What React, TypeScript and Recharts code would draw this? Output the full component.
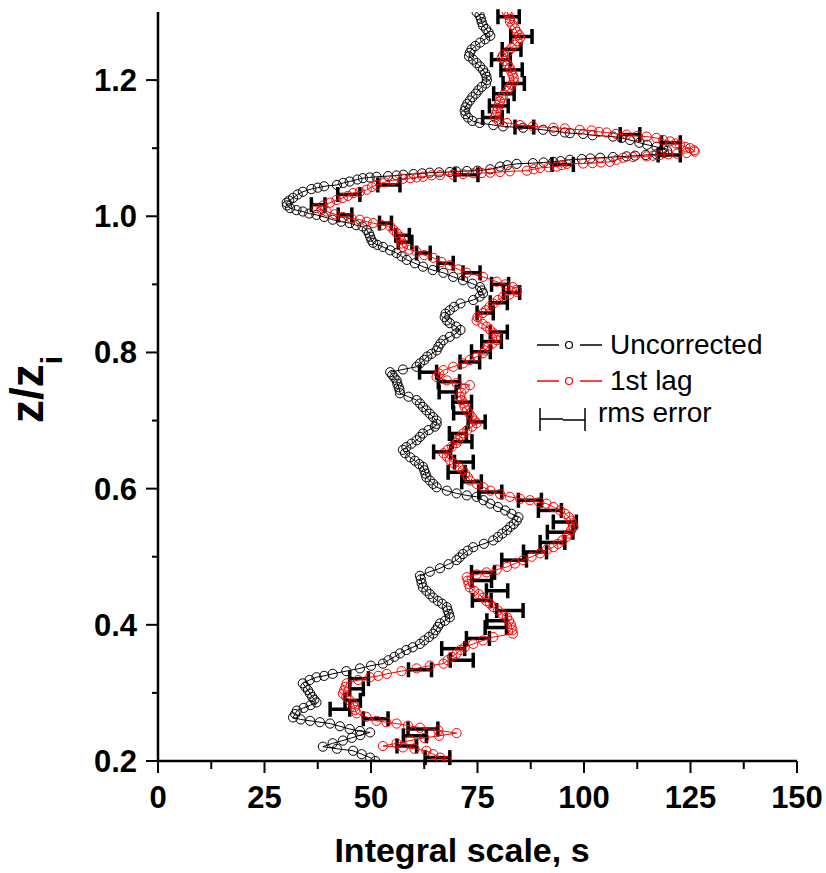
import { Scatter, ScatterChart, XAxis, YAxis, ErrorBar } from "recharts";

// [z/zi, integral scale (s)]
const uncorrected: [number, number][] = [
  [1.3, 74.8], [1.295, 75.5], [1.29, 75.8], [1.285, 76.0], [1.28, 76.3], [1.275, 77.0], [1.27, 77.6],
  [1.265, 78.0], [1.26, 76.8], [1.255, 75.6], [1.25, 74.5], [1.245, 73.6], [1.24, 73.2], [1.235, 73.0],
  [1.23, 74.0], [1.225, 74.8], [1.22, 75.6], [1.215, 76.3], [1.21, 76.8], [1.205, 77.1], [1.2, 77.2],
  [1.195, 77.0], [1.19, 76.0], [1.185, 75.2], [1.18, 74.6], [1.175, 73.8], [1.17, 73.2], [1.165, 72.6],
  [1.16, 72.2], [1.155, 72.0], [1.15, 72.2], [1.145, 72.8], [1.14, 73.8], [1.137, 75.5], [1.134, 78.7],
  [1.132, 81.0], [1.13, 85.7], [1.127, 90.4], [1.125, 93.0], [1.123, 95.5], [1.122, 96.7], [1.121, 99.8],
  [1.119, 102.0], [1.117, 106.8], [1.115, 108.8], [1.112, 110.8], [1.108, 113.0], [1.105, 114.8],
  [1.102, 117.0], [1.099, 118.6], [1.096, 119.5], [1.093, 118.8], [1.091, 117.0], [1.09, 114.5],
  [1.089, 112.0], [1.088, 110.0], [1.087, 106.8], [1.086, 103.8], [1.085, 101.5], [1.084, 99.5],
  [1.083, 96.7], [1.081, 94.5], [1.08, 92.8], [1.079, 90.5], [1.078, 88.0], [1.077, 84.2], [1.075, 82.0],
  [1.073, 80.3], [1.069, 78.0], [1.067, 75.0], [1.0665, 72.5], [1.066, 70.0], [1.065, 68.5],
  [1.0645, 66.0], [1.064, 63.8], [1.063, 62.0], [1.062, 60.0], [1.061, 57.6], [1.06, 56.0], [1.059, 54.0],
  [1.058, 51.3], [1.057, 49.7], [1.056, 48.1], [1.054, 46.8], [1.051, 45.0], [1.049, 43.5], [1.046, 42.0],
  [1.044, 39.0], [1.042, 37.5], [1.04, 36.0], [1.036, 34.0], [1.032, 32.8], [1.027, 31.7], [1.023, 30.8],
  [1.02, 30.2], [1.016, 30.3], [1.012, 31.0], [1.009, 32.5], [1.007, 34.0], [1.004, 35.5], [1.002, 37.2],
  [0.999, 39.0], [0.995, 41.0], [0.992, 43.0], [0.99, 45.0], [0.987, 46.5], [0.985, 48.0], [0.98, 49.0],
  [0.975, 49.5], [0.97, 49.8], [0.965, 50.1], [0.961, 50.5], [0.958, 51.5], [0.955, 52.8], [0.95, 54.5],
  [0.946, 56.0], [0.941, 57.2], [0.936, 58.4], [0.931, 60.3], [0.926, 62.2], [0.921, 64.5], [0.917, 67.0],
  [0.911, 69.3], [0.906, 71.6], [0.901, 73.8], [0.896, 75.6], [0.891, 76.0], [0.887, 76.3], [0.882, 75.5],
  [0.877, 74.0], [0.872, 71.0], [0.867, 69.5], [0.862, 68.5], [0.857, 67.5], [0.852, 67.3], [0.847, 67.8],
  [0.843, 68.5], [0.838, 70.0], [0.833, 71.0], [0.828, 70.0], [0.823, 68.5], [0.818, 67.0], [0.813, 66.3],
  [0.808, 65.8], [0.803, 65.4], [0.798, 64.2], [0.794, 63.2], [0.789, 62.5], [0.784, 61.5], [0.779, 60.7],
  [0.775, 57.5], [0.771, 54.5], [0.767, 55.0], [0.763, 55.5], [0.759, 56.0], [0.754, 56.2], [0.749, 56.5],
  [0.745, 56.7], [0.74, 56.8], [0.735, 58.8], [0.73, 60.7], [0.725, 61.5], [0.72, 62.2], [0.715, 63.0],
  [0.71, 63.8], [0.705, 64.6], [0.7, 65.4], [0.695, 65.4], [0.691, 65.0], [0.686, 63.5], [0.681, 62.2],
  [0.676, 61.5], [0.671, 60.7], [0.666, 59.5], [0.661, 58.3], [0.657, 57.5], [0.652, 58.0], [0.646, 59.2],
  [0.641, 60.3], [0.636, 61.3], [0.632, 62.2], [0.627, 62.5], [0.622, 62.8], [0.617, 63.0], [0.612, 63.8],
  [0.607, 64.6], [0.602, 65.4], [0.597, 67.8], [0.593, 70.1], [0.59, 72.5], [0.588, 74.8], [0.583, 76.4],
  [0.578, 78.0], [0.573, 79.8], [0.568, 81.5], [0.563, 83.0], [0.558, 84.6], [0.553, 84.2], [0.548, 83.5],
  [0.544, 82.7], [0.539, 81.9], [0.534, 80.8], [0.529, 79.8], [0.524, 78.7], [0.519, 76.5], [0.514, 74.0],
  [0.509, 72.7], [0.504, 71.6], [0.499, 70.8], [0.495, 70.1], [0.489, 68.2], [0.483, 66.2], [0.478, 63.8],
  [0.472, 61.5], [0.467, 61.7], [0.461, 61.9], [0.455, 62.2], [0.45, 63.0], [0.445, 63.8], [0.44, 64.6],
  [0.435, 65.7], [0.431, 66.7], [0.426, 67.8], [0.421, 68.0], [0.416, 68.3], [0.411, 68.5], [0.406, 67.4],
  [0.402, 66.2], [0.397, 65.7], [0.392, 65.2], [0.387, 64.6], [0.382, 63.6], [0.377, 62.5], [0.372, 61.5],
  [0.367, 59.8], [0.363, 58.3], [0.358, 56.8], [0.353, 55.5], [0.348, 54.1], [0.343, 52.8], [0.34, 50.0],
  [0.336, 47.4], [0.332, 44.2], [0.328, 41.0], [0.325, 39.0], [0.323, 37.2], [0.319, 35.6], [0.314, 34.0],
  [0.309, 34.6], [0.304, 35.2], [0.299, 35.7], [0.294, 36.2], [0.29, 36.7], [0.286, 37.2], [0.282, 35.8],
  [0.278, 34.2], [0.274, 32.6], [0.269, 32.2], [0.264, 31.7], [0.261, 33.5], [0.259, 35.7], [0.257, 38.0],
  [0.255, 40.4], [0.251, 42.7], [0.247, 45.0], [0.244, 47.4], [0.242, 49.8], [0.238, 47.5], [0.234, 45.5],
  [0.23, 43.4], [0.226, 41.0], [0.221, 38.7], [0.218, 42.0], [0.215, 45.8], [0.21, 47.8], [0.205, 49.8],
  [0.2, 51.0],
];

const firstLag: [number, number][] = [
  [1.3, 81.9], [1.295, 82.3], [1.29, 82.6], [1.286, 82.6], [1.281, 83.2], [1.276, 83.8], [1.271, 84.2],
  [1.266, 84.8], [1.262, 85.0], [1.257, 84.4], [1.252, 83.7], [1.247, 83.0], [1.242, 82.2], [1.237, 81.0],
  [1.233, 80.7], [1.228, 81.4], [1.223, 82.1], [1.218, 82.6], [1.213, 82.9], [1.208, 83.2], [1.203, 83.5],
  [1.198, 83.5], [1.193, 83.0], [1.189, 82.6], [1.184, 82.0], [1.178, 81.0], [1.174, 80.6], [1.169, 80.3],
  [1.164, 80.0], [1.159, 79.8], [1.154, 79.5], [1.149, 79.3], [1.145, 79.1], [1.14, 80.0], [1.137, 81.9],
  [1.134, 85.0], [1.132, 88.0], [1.13, 92.8], [1.129, 95.5], [1.127, 99.0], [1.126, 101.8], [1.124, 103.5],
  [1.123, 105.3], [1.121, 107.5], [1.12, 110.0], [1.118, 112.5], [1.117, 114.7], [1.115, 117.0],
  [1.112, 118.6], [1.11, 120.2], [1.107, 121.5], [1.105, 122.5], [1.102, 123.8], [1.1, 124.9],
  [1.097, 125.8], [1.095, 126.0], [1.093, 124.1], [1.092, 121.8], [1.091, 119.8], [1.09, 117.8],
  [1.089, 116.2], [1.088, 114.7], [1.087, 111.5], [1.086, 109.2], [1.083, 107.6], [1.08, 106.1],
  [1.079, 104.0], [1.078, 102.0], [1.0775, 99.8], [1.077, 96.0], [1.075, 94.8], [1.073, 93.7],
  [1.072, 91.7], [1.071, 89.7], [1.069, 88.2], [1.067, 86.6], [1.066, 82.6], [1.065, 80.3], [1.064, 78.0],
  [1.0635, 76.0], [1.063, 74.0], [1.062, 71.6], [1.061, 69.2], [1.0605, 66.2], [1.06, 64.2], [1.058, 62.2],
  [1.057, 60.7], [1.056, 59.2], [1.055, 57.5], [1.053, 55.2], [1.05, 53.2], [1.046, 51.3], [1.043, 50.2],
  [1.039, 49.0], [1.036, 47.4], [1.034, 45.8], [1.03, 44.6], [1.027, 43.4], [1.024, 41.9], [1.02, 40.4],
  [1.016, 38.8], [1.012, 37.2], [1.009, 38.4], [1.007, 39.6], [1.003, 41.5], [0.999, 43.4], [0.997, 45.4],
  [0.995, 47.4], [0.992, 49.0], [0.99, 50.5], [0.987, 52.5], [0.985, 54.5], [0.98, 55.3], [0.975, 56.1],
  [0.97, 56.8], [0.965, 57.0], [0.96, 57.2], [0.955, 57.5], [0.951, 59.0], [0.948, 60.7], [0.943, 62.5],
  [0.939, 64.6], [0.933, 66.5], [0.928, 68.5], [0.922, 70.5], [0.917, 72.5], [0.911, 76.3], [0.904, 79.5],
  [0.9, 81.5], [0.896, 83.3], [0.892, 84.2], [0.889, 84.2], [0.885, 82.5], [0.882, 81.0], [0.877, 79.8],
  [0.872, 78.7], [0.867, 77.8], [0.862, 77.0], [0.858, 76.3], [0.852, 75.0], [0.847, 74.8], [0.842, 76.2],
  [0.838, 77.1], [0.833, 78.0], [0.828, 78.8], [0.823, 79.5], [0.818, 79.5], [0.813, 78.5], [0.808, 77.5],
  [0.803, 76.8], [0.799, 76.3], [0.794, 74.8], [0.789, 73.2], [0.784, 71.6], [0.779, 69.3], [0.774, 67.0],
  [0.769, 66.0], [0.764, 65.4], [0.759, 67.8], [0.755, 70.1], [0.752, 73.2], [0.747, 72.0], [0.741, 71.2],
  [0.735, 70.9], [0.73, 71.3], [0.725, 71.7], [0.72, 72.0], [0.715, 72.5], [0.71, 73.1], [0.705, 73.7],
  [0.7, 74.3], [0.696, 74.8], [0.691, 73.7], [0.686, 72.6], [0.681, 71.6], [0.676, 71.0], [0.671, 70.4],
  [0.667, 70.1], [0.662, 69.0], [0.657, 68.0], [0.652, 67.0], [0.647, 67.8], [0.642, 68.5], [0.637, 69.5],
  [0.632, 70.6], [0.627, 71.6], [0.622, 72.1], [0.617, 72.7], [0.612, 73.2], [0.607, 74.8], [0.602, 76.4],
  [0.597, 78.0], [0.592, 80.3], [0.588, 82.6], [0.585, 85.0], [0.583, 87.3], [0.58, 89.5], [0.578, 91.2],
  [0.573, 92.8], [0.568, 94.4], [0.563, 95.6], [0.558, 96.5], [0.553, 97.0], [0.549, 97.3], [0.544, 97.5],
  [0.539, 97.0], [0.534, 96.5], [0.529, 95.9], [0.524, 94.9], [0.519, 93.9], [0.514, 92.8], [0.51, 91.2],
  [0.505, 89.7], [0.5, 87.7], [0.495, 85.7], [0.49, 83.8], [0.485, 81.9], [0.481, 79.5], [0.477, 77.1],
  [0.474, 74.8], [0.47, 72.5], [0.465, 72.7], [0.46, 72.9], [0.455, 73.2], [0.45, 74.2], [0.445, 75.3],
  [0.44, 76.3], [0.435, 77.1], [0.431, 77.9], [0.426, 78.7], [0.421, 79.8], [0.416, 80.8], [0.411, 81.9],
  [0.406, 82.4], [0.401, 82.8], [0.396, 83.0], [0.392, 83.2], [0.387, 83.3], [0.382, 78.7], [0.377, 76.3],
  [0.372, 74.0], [0.367, 72.0], [0.363, 71.0], [0.358, 70.1], [0.353, 69.0], [0.348, 68.0], [0.343, 67.0],
  [0.34, 63.8], [0.336, 60.7], [0.332, 57.2], [0.328, 53.7], [0.325, 51.7], [0.323, 49.8], [0.319, 47.0],
  [0.314, 44.3], [0.309, 44.0], [0.304, 43.7], [0.299, 43.4], [0.294, 44.2], [0.289, 45.0], [0.284, 45.8],
  [0.279, 46.1], [0.275, 46.3], [0.27, 46.6], [0.265, 48.9], [0.259, 51.3], [0.257, 53.6], [0.255, 56.0],
  [0.252, 58.7], [0.249, 61.5], [0.245, 65.8], [0.241, 70.1], [0.237, 66.0], [0.234, 62.5], [0.23, 59.2],
  [0.226, 56.0], [0.222, 52.8], [0.22, 57.5], [0.218, 60.2], [0.215, 63.0], [0.21, 64.6], [0.205, 66.2],
  [0.2, 67.8],
];

// [z/zi, centre, rms error]
const rmsError: [number, number, number][] = [
  [1.293, 82.3, 2.5], [1.264, 85.3, 2.5], [1.245, 83.0, 2.2], [1.23, 80.5, 2.2], [1.215, 83.0, 2.5],
  [1.195, 83.5, 2.5], [1.18, 81.2, 2.4], [1.162, 80.0, 2.2], [1.145, 78.5, 2.3], [1.131, 86.0, 2.2],
  [1.12, 110.8, 2.3], [1.108, 120.4, 2.2], [1.09, 120.0, 2.6], [1.076, 95.0, 2.5], [1.061, 72.4, 2.7],
  [1.046, 54.2, 2.6], [1.032, 44.8, 2.6], [1.017, 37.6, 1.6], [1.002, 43.9, 1.6], [0.99, 53.4, 1.4],
  [0.972, 57.4, 1.6], [0.962, 58.0, 1.6], [0.946, 62.3, 1.6], [0.931, 67.5, 1.8], [0.917, 73.6, 2.0],
  [0.9, 80.3, 2.0], [0.888, 83.0, 1.9], [0.873, 80.0, 2.0], [0.858, 76.8, 1.9], [0.83, 80.0, 2.0],
  [0.816, 78.3, 2.3], [0.801, 75.8, 2.2], [0.786, 73.2, 2.3], [0.771, 63.4, 2.0], [0.757, 68.3, 2.5],
  [0.742, 68.0, 2.0], [0.727, 71.4, 2.2], [0.711, 71.4, 2.0], [0.698, 74.8, 2.0], [0.681, 70.4, 2.0],
  [0.669, 71.4, 2.3], [0.654, 66.7, 2.0], [0.639, 71.8, 2.2], [0.624, 70.1, 2.0], [0.61, 73.6, 2.3],
  [0.595, 78.0, 2.7], [0.583, 87.3, 2.7], [0.568, 92.0, 2.7], [0.551, 95.5, 2.7], [0.536, 94.4, 3.0],
  [0.521, 92.6, 2.9], [0.507, 88.5, 2.7], [0.495, 83.6, 2.9], [0.477, 76.3, 2.7], [0.465, 76.0, 2.3],
  [0.45, 79.6, 2.5], [0.436, 76.0, 2.2], [0.421, 82.6, 3.1], [0.406, 79.5, 2.3], [0.396, 79.3, 2.5],
  [0.38, 75.1, 2.7], [0.365, 69.3, 2.7], [0.348, 71.3, 2.7], [0.334, 61.5, 2.7], [0.321, 47.2, 2.2],
  [0.306, 46.6, 1.6], [0.289, 45.7, 1.8], [0.276, 42.7, 2.3], [0.262, 51.1, 2.9], [0.247, 62.2, 3.5],
  [0.237, 60.3, 2.7], [0.222, 58.4, 2.3], [0.205, 65.6, 2.9],
];

const bottomTicks = [0, 12.5, 25, 37.5, 50, 62.5, 75, 87.5, 100, 112.5, 125, 137.5, 150];
const topTicks = [15, 30, 45, 60, 75, 90, 105, 120, 135];
const leftTicks = [0.2, 0.3, 0.4, 0.5, 0.6, 0.7, 0.8, 0.9, 1.0, 1.1, 1.2];
const rightTicks = [0.3, 0.4, 0.5, 0.6, 0.7, 0.8, 0.9, 1.0, 1.1, 1.2];

const FONT = "'Liberation Sans', Arial, Helvetica, sans-serif";
const axisLine = { stroke: "#000", strokeWidth: 2.5 };

const blackRows = uncorrected.map(([z, x]) => ({ z, x }));
const redRows = firstLag.map(([z, x]) => ({ z, x }));
const errRows = rmsError.map(([z, x, err]) => ({ z, x, err }));

function BottomTick({ x, y, payload }: any) {
  const major = payload.value % 25 === 0;
  return (
    <g>
      <line x1={x} x2={x} y1={y} y2={y + (major ? 12 : 8)} stroke="#000" strokeWidth={2} />
      {major && (
        <text x={x} y={y + 47} textAnchor="middle" fontSize={31} fontWeight="bold" fontFamily={FONT} fill="#000">
          {payload.value}
        </text>
      )}
    </g>
  );
}

function TopTick({ x, y, payload }: any) {
  const major = payload.value % 30 === 0;
  return <line x1={x} x2={x} y1={y} y2={y + (major ? 12 : 7)} stroke="#000" strokeWidth={2} />;
}

function LeftTick({ x, y, payload }: any) {
  const major = Math.round(payload.value * 10) % 2 === 0;
  return (
    <g>
      <line x1={x - (major ? 12 : 6)} x2={x} y1={y} y2={y} stroke="#000" strokeWidth={2} />
      {major && (
        <text x={x - 21} y={y + 11} textAnchor="end" fontSize={31} fontWeight="bold" fontFamily={FONT} fill="#000">
          {payload.value.toFixed(1)}
        </text>
      )}
    </g>
  );
}

function RightTick({ x, y }: any) {
  return <line x1={x - 13} x2={x} y1={y} y2={y} stroke="#000" strokeWidth={2} />;
}

const circle = (color: string) => (props: any) =>
  <circle cx={props.cx} cy={props.cy} r={4.6} fill="none" stroke={color} strokeWidth={1} />;

function Decorations() {
  return (
    <g fontFamily={FONT} fill="#000">
      <text x={43} y={423} transform="rotate(-90 43 423)" fontSize={46} fontWeight="bold">
        z/z
        <tspan dy={19} fontSize={30}>i</tspan>
      </text>
      <text x={462} y={862} textAnchor="middle" fontSize={34} fontWeight="bold">
        Integral scale, s
      </text>

      <line x1={537} x2={559} y1={345} y2={345} stroke="#000" strokeWidth={1.5} />
      <circle cx={569} cy={345} r={3.5} fill="none" stroke="#000" strokeWidth={1.2} />
      <line x1={580} x2={602} y1={345} y2={345} stroke="#000" strokeWidth={1.5} />
      <text x={610} y={354} fontSize={28}>Uncorrected</text>

      <line x1={537} x2={559} y1={381} y2={381} stroke="#f00" strokeWidth={1.5} />
      <circle cx={569} cy={381} r={3.5} fill="none" stroke="#f00" strokeWidth={1.2} />
      <line x1={580} x2={602} y1={381} y2={381} stroke="#f00" strokeWidth={1.5} />
      <text x={610} y={390} fontSize={28}>1st lag</text>

      <line x1={540} x2={540} y1={408} y2={431} stroke="#000" strokeWidth={1.5} />
      <line x1={540} x2={563} y1={419} y2={419} stroke="#000" strokeWidth={1.5} />
      <line x1={563} x2={585} y1={420} y2={420} stroke="#000" strokeWidth={1.5} />
      <line x1={585} x2={585} y1={408} y2={431} stroke="#000" strokeWidth={1.5} />
      <text x={598} y={422} fontSize={28}>rms error</text>
    </g>
  );
}

export default function App() {
  return (
    <div style={{ position: "absolute", left: 0, top: 0, width: 826, height: 873, background: "#fff" }}>
      <ScatterChart width={826} height={873} margin={{ top: 12, right: 29, bottom: 0, left: 0 }}>
        <XAxis
          dataKey="x"
          type="number"
          domain={[0, 150]}
          ticks={bottomTicks}
          interval={0}
          height={112}
          tickSize={0}
          tickMargin={0}
          tickLine={false}
          tick={BottomTick}
          axisLine={axisLine}
          allowDataOverflow
        />
        <XAxis
          xAxisId="top"
          orientation="top"
          type="number"
          domain={[0, 150]}
          ticks={topTicks}
          interval={0}
          height={0}
          tickSize={0}
          tickMargin={0}
          tickLine={false}
          tick={TopTick}
          axisLine={axisLine}
          allowDataOverflow
        />
        <YAxis
          dataKey="z"
          type="number"
          domain={[0.2, 1.3]}
          ticks={leftTicks}
          interval={0}
          width={158}
          tickSize={0}
          tickMargin={0}
          tickLine={false}
          tick={LeftTick}
          axisLine={axisLine}
          allowDataOverflow
        />
        <YAxis
          yAxisId="right"
          orientation="right"
          type="number"
          domain={[0.2, 1.3]}
          ticks={rightTicks}
          interval={0}
          width={0}
          tickSize={0}
          tickMargin={0}
          tickLine={false}
          tick={RightTick}
          axisLine={axisLine}
          allowDataOverflow
        />
        <Scatter
          data={blackRows}
          shape={circle("#000")}
          line={{ stroke: "#000", strokeWidth: 1 }}
          isAnimationActive={false}
        />
        <Scatter
          data={redRows}
          shape={circle("#f00")}
          line={{ stroke: "#f00", strokeWidth: 1 }}
          isAnimationActive={false}
        />
        <Scatter data={errRows} shape={() => <g />} isAnimationActive={false}>
          <ErrorBar dataKey="err" direction="x" width={7.5} strokeWidth={3.5} stroke="#000" isAnimationActive={false} />
        </Scatter>
        <Decorations />
      </ScatterChart>
    </div>
  );
}
